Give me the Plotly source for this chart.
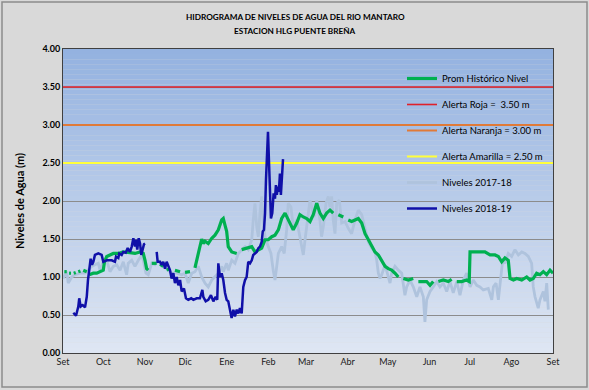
import plotly.graph_objects as go
import pandas as pd

# ---------------- data ----------------
inicio = pd.Timestamp("2018-09-01")
fin = pd.Timestamp("2019-09-01")
meses = ["Set", "Oct", "Nov", "Dic", "Ene", "Feb", "Mar", "Abr", "May", "Jun", "Jul", "Ago", "Set"]
titulo_1 = "HIDROGRAMA DE NIVELES DE AGUA DEL RIO MANTARO"
titulo_2 = "ESTACION HLG PUENTE BREÑA"

# Prom Histórico Nivel (days since 1 Sep; None = missing day)
prom_dias = [1.0, 2.8, 3.5, 4.5, 6.0, 7.0, 8.0, 9.5, 10.3, 11.4, 13.0, 14.0, 15.1, 17.7, 18.6,
             19.5, 21.5, 22.6, 25.1, 27.6, 30.0, 30.9, 32.6, 35.0, 37.5, 41.2, 44.9, 49.9, 53.6,
             57.4, 59.8, 61.1, 62.3, 63.5, 64.8, 66.1, 69.8, 71.0, 72.3, 74.7, 75.9, 77.2, 79.7,
             80.9, 83.4, 87.2, 88.5, 90.9, 94.6, 96.0, 98.3, 100.8, 103.3, 104.5, 105.8, 108.2,
             110.8, 113.2, 115.7, 118.2, 119.4, 120.7, 121.9, 123.1, 125.7, 129.4, 131.0, 133.1,
             136.8, 140.6, 143.0, 145.5, 148.0, 150.5, 152.9, 155.5, 157.9, 160.4, 162.9, 165.4,
             167.8, 170.4, 171.5, 174.1, 176.5, 179.0, 181.5, 184.0, 186.4, 189.0, 191.4, 193.9,
             196.4, 198.9, 201.3, 203.0, 205.1, 208.8, 210.5, 212.5, 215.0, 217.5, 220.0, 222.5,
             225.0, 227.5, 230.0, 232.4, 234.9, 237.4, 239.9, 242.3, 244.8, 247.3, 249.8, 252.0,
             253.5, 257.2, 260.9, 262.0, 264.7, 265.9, 270.9, 273.4, 275.8, 277.5, 279.6, 283.3,
             287.0, 289.5, 291.0, 293.3, 297.0, 300.7, 302.6, 303.2, 305.6, 310.6, 314.3, 318.1,
             321.8, 324.3, 326.8, 329.2, 331.7, 333.0, 335.5, 338.0, 341.7, 345.4, 347.9, 350.3,
             352.8, 355.3, 357.8, 360.3, 362.8, 365.0]
prom_nivel = [1.07, 1.07, None, 1.05, 1.05, None, 1.05, 1.06, None, 1.07, 1.08, None, 1.09, 1.07, None,
              1.03, 1.04, 1.05, 1.05, 1.07, 1.09, 1.20, 1.27, 1.29, 1.31, 1.31, 1.33, 1.32, 1.31,
              1.33, 1.31, 1.22, 1.11, 1.09, None, 1.18, 1.18, None, 1.17, 1.14, None, 1.09, 1.11,
              None, 1.09, 1.07, None, 1.06, 1.07, None, 1.12, 1.31, 1.50, 1.44, 1.47, 1.44,
              1.51, 1.55, 1.62, 1.75, 1.77, 1.68, 1.60, 1.40, 1.33, 1.31, None, 1.36,
              1.38, 1.40, 1.33, 1.36, 1.38, 1.49, 1.49, 1.53, 1.55, 1.62, 1.77, 1.84,
              1.75, 1.66, 1.62, 1.71, 1.82, 1.79, 1.77, 1.73, 1.82, 1.97, 1.84, 1.77,
              1.84, 1.88, 1.84, None, 1.82, 1.79, None, 1.75, 1.73, 1.75, 1.77, 1.71,
              1.57, 1.49, 1.40, 1.33, 1.29, 1.22, 1.14, 1.11, 1.09, 1.05, 1.00, None,
              0.98, 0.96, 0.98, None, 0.94, 0.94, 0.94, 0.89, 0.94, None, 0.94, 0.96,
              0.94, 0.97, None, 0.94, 0.94, 0.96, 0.94, 1.33, 1.33, 1.32, 1.33, 1.29,
              1.29, 1.27, 1.20, 1.25, 1.22, 0.98, 0.96, 0.98, 0.96, 1.00, 0.96, 0.98,
              1.05, 1.03, 1.07, 1.03, 1.09, 1.05]

# Niveles 2017-18
n1718_dias = [0.0, 2.8, 3.9, 6.5, 8.9, 12.7, 16.4, 18.8, 21.4, 23.8, 26.3, 27.6, 30.0, 32.6, 35.0,
              37.5, 40.0, 42.5, 44.9, 47.4, 48.6, 51.2, 53.6, 56.1, 58.6, 59.8, 61.8, 63.5, 66.1,
              68.5, 71.0, 73.5, 77.2, 81.0, 84.7, 88.4, 90.9, 93.3, 95.9, 98.3, 100.8, 103.3, 105.8,
              108.2, 110.8, 113.2, 115.7, 118.2, 119.4, 121.9, 123.1, 125.7, 128.1, 130.6, 133.1,
              135.6, 138.0, 140.6, 141.7, 143.0, 144.3, 145.5, 146.7, 148.0, 149.2, 150.5, 152.9,
              154.9, 156.6, 157.9, 159.2, 160.4, 162.9, 164.8, 166.6, 167.8, 169.8, 171.5, 174.1,
              176.5, 179.0, 180.3, 182.7, 184.0, 185.3, 187.0, 189.0, 191.4, 192.6, 193.9, 195.9,
              197.6, 198.9, 200.1, 201.3, 202.6, 203.9, 205.8, 207.6, 210.1, 212.5, 215.0, 217.5,
              220.0, 222.5, 225.0, 227.5, 230.0, 232.4, 233.7, 234.9, 236.2, 237.4, 239.9, 242.3,
              243.6, 244.8, 247.3, 249.8, 252.3, 254.7, 256.0, 258.5, 260.9, 263.5, 265.9, 268.4,
              269.6, 270.9, 273.4, 275.8, 278.4, 280.8, 283.3, 285.8, 288.3, 290.7, 293.3, 295.7,
              298.2, 300.7, 303.2, 305.6, 308.2, 310.6, 313.1, 316.8, 319.4, 320.6, 322.6, 324.3,
              325.5, 327.5, 329.2, 331.7, 334.2, 336.7, 339.2, 341.7, 344.1, 346.6, 349.1, 350.3,
              351.6, 354.0, 355.3, 356.6, 357.8, 359.0, 360.3, 361.5]
n1718_nivel = [0.98, 1.07, 0.92, 1.00, 1.03, 1.05, 1.05, 1.09, 1.14, 1.16, 1.18, 1.09, 1.20, 1.22, 1.07,
               1.14, 1.16, 1.09, 1.20, 1.03, 1.18, 1.22, 1.14, 1.22, 1.29, 1.22, 1.05, 1.03, 1.18,
               1.16, 1.22, 1.16, 1.11, 1.05, 1.05, 1.03, 1.05, 0.92, 1.05, 1.07, 1.14, 1.00, 0.92,
               0.87, 0.96, 1.00, 1.05, 1.14, 1.07, 1.18, 1.09, 1.22, 1.18, 1.31, 1.36,
               1.40, 1.36, 1.49, 1.75, 1.97, 1.66, 1.53, 1.84, 2.06, 1.71, 1.53, 1.40,
               1.31, 1.09, 0.96, 1.14, 1.31, 1.40, 1.31, 1.62, 1.97, 1.92, 1.66, 1.75,
               1.53, 1.29, 1.49, 1.84, 2.01, 1.92, 1.79, 2.01, 1.75, 1.53, 1.66, 1.97,
               2.06, 1.92, 2.06, 1.75, 1.57, 1.97, 2.01, 1.71, 1.73, 1.64, 1.57, 1.75,
               1.88, 1.82, 1.62, 1.46, 1.38, 1.33, 1.22, 1.05, 0.98, 1.03, 1.16, 1.00,
               0.92, 1.05, 1.14, 1.09, 1.05, 0.76, 0.87, 0.96, 0.87, 0.74, 0.87, 0.74,
               0.41, 0.70, 0.81, 0.87, 0.94, 0.87, 0.92, 0.81, 0.94, 0.79, 0.94, 0.76,
               0.96, 1.05, 0.87, 0.96, 0.89, 0.87, 0.83, 0.85, 0.70, 0.87, 0.92, 0.70,
               0.87, 1.22, 1.18, 1.31, 1.27, 1.36, 1.29, 1.33, 1.31, 1.27, 1.18, 0.87,
               0.74, 0.59, 0.70, 0.76, 0.81, 0.68, 0.92, 0.57]

# Niveles 2018-19
n1819_dias = [7.7, 9.7, 11.4, 12.1, 13.2, 14.7, 16.4, 17.7, 18.6, 19.6, 20.6, 21.6, 22.6, 23.8, 26.3,
              28.8, 30.0, 32.6, 36.3, 38.7, 39.5, 41.2, 41.9, 43.7, 44.9, 46.7, 48.2, 49.9, 51.2,
              52.4, 53.6, 54.4, 55.3, 56.4, 57.4, 58.3, 59.4, 60.3, 61.1, 65.0, 69.8, 70.5, 72.3,
              73.5, 74.7, 76.0, 77.2, 78.4, 79.7, 80.9, 82.2, 83.4, 84.7, 85.9, 87.2, 88.4, 90.1,
              91.6, 93.3, 95.5, 97.1, 99.6, 102.0, 103.8, 104.5, 106.3, 108.2, 110.2, 112.0, 113.7,
              114.9, 115.7, 116.9, 118.2, 119.4, 120.7, 121.9, 123.1, 124.4, 125.6, 126.9, 128.1,
              129.4, 130.6, 131.8, 133.1, 134.3, 135.6, 136.8, 138.0, 139.3, 140.6, 141.7, 143.0,
              144.3, 145.5, 146.7, 148.0, 148.8, 149.7, 150.5, 151.2, 152.0, 152.7, 153.4, 154.2,
              154.9, 155.9, 156.9, 157.9, 158.6, 159.3, 160.1, 160.8, 161.6, 162.3, 163.1, 163.9]
n1819_nivel = [0.53, 0.49, 0.61, 0.72, 0.61, 0.63, 0.60, 0.74, 0.96, 1.14, 1.24, 1.16, 1.20, 1.29, 1.31,
               1.29, 1.20, 1.22, 1.22, 1.20, 1.27, 1.25, 1.31, 1.29, 1.33, 1.32, 1.38, 1.33, 1.40,
               1.51, 1.40, 1.49, 1.36, 1.51, 1.44, 1.29, 1.38, 1.43, 1.44, None, 1.33, 1.20, 1.20,
               1.16, 1.20, 1.11, 1.20, 1.14, 1.09, 0.98, 1.05, 0.92, 1.00, 0.89, 0.96, 0.81, 0.85,
               0.72, 0.70, 0.72, 0.70, 0.72, 0.72, 0.83, 0.74, 0.68, 0.70, 0.76, 0.68, 0.74,
               0.70, 1.18, 1.00, 1.05, 0.96, 0.79, 0.70, 0.68, 0.57, 0.46, 0.57, 0.48,
               0.57, 0.52, 0.59, 0.52, 0.87, 0.96, 1.00, 1.20, 1.18, 1.22, 1.29, 1.31,
               1.33, 1.38, 1.40, 1.46, 1.60, 1.62, 1.84, 2.28, 2.63, 2.91, 2.54, 2.01,
               1.77, 1.84, 2.10, 2.03, 2.21, 2.08, 2.19, 2.12, 2.36, 2.08, 2.36, 2.55]

alerta_roja = 3.50
alerta_naranja = 3.00
alerta_amarilla = 2.50


def fechas(dias):
    return [inicio + pd.to_timedelta(d, unit="D") for d in dias]


FONT = "Lato"
L, R, T, B = 63, 36, 49, 37
PW, PH = 589 - L - R, 390 - T - B


def px_x(px):
    return (px - L) / PW


def px_y(py):
    return (390 - B - py) / PH


fig = go.Figure()

# background gradient of plotting area
n_bands = 60
top_c = (148, 178, 224)
bot_c = (222, 230, 243)
for i in range(n_bands):
    t = i / (n_bands - 1)
    c = tuple(round(top_c[k] + (bot_c[k] - top_c[k]) * t) for k in range(3))
    fig.add_shape(type="rect", xref="paper", yref="paper", x0=0, x1=1,
                  y0=1 - (i + 1) / n_bands, y1=1 - i / n_bands,
                  fillcolor="rgb(%d,%d,%d)" % c, line_width=0, layer="below")

# outer frame of the chart
fig.add_shape(type="rect", xref="paper", yref="paper",
              x0=px_x(2), x1=px_x(587), y0=px_y(387), y1=px_y(2),
              line=dict(color="#8c8c8c", width=1.5), fillcolor="rgba(0,0,0,0)", layer="above")

xr = [inicio, fin]
fig.add_trace(go.Scatter(x=fechas(n1718_dias), y=n1718_nivel, mode="lines", name="Niveles 2017-18",
                         line=dict(color="#afc3dd", width=2.8), legendrank=5, legendgroup="e"))
fig.add_trace(go.Scatter(x=fechas(prom_dias), y=prom_nivel, mode="lines", name="Prom Histórico Nivel",
                         line=dict(color="#00b050", width=3.2), legendrank=1, legendgroup="a"))
fig.add_trace(go.Scatter(x=xr, y=[alerta_roja] * 2, mode="lines", name="Alerta Roja =  3.50 m",
                         line=dict(color="#e0202a", width=1.6), legendrank=2, legendgroup="b"))
fig.add_trace(go.Scatter(x=xr, y=[alerta_naranja] * 2, mode="lines", name="Alerta Naranja = 3.00 m",
                         line=dict(color="#e07a38", width=2), legendrank=3, legendgroup="c"))
fig.add_trace(go.Scatter(x=xr, y=[alerta_amarilla] * 2, mode="lines", name="Alerta Amarilla = 2.50 m",
                         line=dict(color="#ffff3a", width=2), legendrank=4, legendgroup="d"))
fig.add_trace(go.Scatter(x=fechas(n1819_dias), y=n1819_nivel, mode="lines", name="Niveles 2018-19",
                         line=dict(color="#1010a8", width=2.5), legendrank=6, legendgroup="f"))

fig.update_layout(
    width=589, height=390,
    margin=dict(l=L, r=R, t=T, b=B, autoexpand=False),
    paper_bgcolor="#d9d9d9",
    plot_bgcolor="rgba(0,0,0,0)",
    font=dict(family=FONT, size=9, color="#000000"),
    showlegend=True,
    legend=dict(x=px_x(402), y=px_y(64), xanchor="left", yanchor="top", bgcolor="rgba(0,0,0,0)",
                font=dict(family=FONT, size=9.5, color="#000000"), tracegroupgap=7,
                traceorder="grouped"),
    annotations=[
        dict(text="<b>%s</b>" % titulo_1, xref="paper", yref="paper", x=px_x(295), y=px_y(17),
             xanchor="center", yanchor="middle", showarrow=False,
             font=dict(family=FONT, size=8.2, color="#000000")),
        dict(text="<b>%s</b>" % titulo_2, xref="paper", yref="paper", x=px_x(295), y=px_y(31),
             xanchor="center", yanchor="middle", showarrow=False,
             font=dict(family=FONT, size=8.2, color="#000000")),
    ],
)

fig.update_xaxes(type="date", range=xr, tickvals=pd.date_range(inicio, fin, freq="MS"),
                 ticktext=meses, showgrid=False, showline=True, mirror=True, automargin=False,
                 linecolor="#404040", linewidth=1, ticks="", zeroline=False,
                 tickfont=dict(family=FONT, size=9, color="#202020"))
fig.update_yaxes(range=[0, 4], dtick=0.5, tickformat=".2f", showgrid=True, automargin=False,
                 gridcolor="#8c8c8c", gridwidth=1.3, showline=True, mirror=True,
                 linecolor="#404040", linewidth=1, zeroline=False, ticks="",
                 tickfont=dict(family=FONT, size=9, color="#000000"),
                 tickprefix="<b>", ticksuffix="</b>",
                 title=dict(text="<b>Niveles de Agua (m)</b>", font=dict(family=FONT, size=11), standoff=15))

fig.write_html("out.html", config={"displayModeBar": False},
               post_script="document.body.style.margin='0px';")
